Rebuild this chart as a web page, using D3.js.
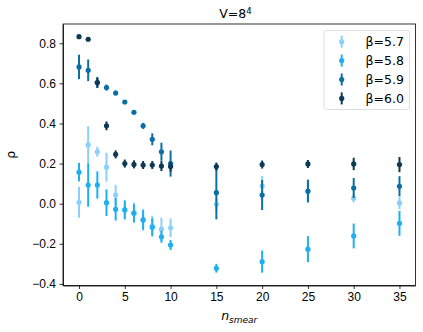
<!DOCTYPE html>
<html>
<head>
<meta charset="utf-8">
<script src="https://cdn.jsdelivr.net/npm/d3@7"></script>
<style>
  body { margin: 0; background: #fff; }
  svg { font-family: "DejaVu Sans", sans-serif; }
  .axis text { font-size: 12px; fill: #000; }
  .axis path, .axis line { stroke: #000; stroke-width: 0.8; }
</style>
</head>
<body>
<svg width="423" height="332"></svg>
<script>
// n_smear values
const nSmear = [0, 1, 2, 3, 4, 5, 6, 7, 8, 9, 10, 15, 20, 25, 30, 35]

// rho and errors, one pair per beta
const rho57 = [0.007, 0.293, 0.259, 0.182, 0.043, -0.03, -0.045, -0.08, -0.11, -0.127, -0.12, -0.003, 0.088, 0.06, 0.027, 0.004]
const err57 = [0.077, 0.093, 0.025, 0.072, 0.05, 0.035, 0.05, 0.055, 0.05, 0.058, 0.046, 0.03, 0.05, 0.05, 0.02, 0.03]

const rho58 = [0.157, 0.093, 0.093, 0.005, -0.028, -0.031, -0.048, -0.081, -0.118, -0.165, -0.206, -0.322, -0.289, -0.227, -0.161, -0.098]
const err58 = [0.046, 0.108, 0.068, 0.066, 0.056, 0.048, 0.045, 0.048, 0.045, 0.03, 0.025, 0.022, 0.055, 0.065, 0.062, 0.062]

const rho59 = [0.682, 0.665, 0.604, 0.579, 0.552, 0.507, 0.456, 0.388, 0.321, 0.259, 0.2, 0.055, 0.043, 0.063, 0.078, 0.087]
const err59 = [0.061, 0.054, 0.027, 0.015, 0.012, 0.01, 0.01, 0.015, 0.03, 0.045, 0.065, 0.133, 0.075, 0.057, 0.05, 0.05]

const rho60 = [0.833, 0.82, 0.604, 0.388, 0.246, 0.2, 0.196, 0.193, 0.193, 0.188, 0.185, 0.185, 0.195, 0.198, 0.198, 0.195]
const err60 = [0.003, 0.003, 0.025, 0.022, 0.02, 0.02, 0.02, 0.02, 0.02, 0.025, 0.025, 0.02, 0.02, 0.02, 0.031, 0.038]

const betaLabels = ["β=5.7", "β=5.8", "β=5.9", "β=6.0"]
const colors = ["#8ad0fa", "#1eaff0", "#0b6fa6", "#0c3a52"]

const xTicks = [0, 5, 10, 15, 20, 25, 30, 35]
const yTicks = [-0.4, -0.2, 0.0, 0.2, 0.4, 0.6, 0.8]

const series = [
    { rho: rho57, err: err57 },
    { rho: rho58, err: err58 },
    { rho: rho59, err: err59 },
    { rho: rho60, err: err60 }
]

// plot area
const plotL = 63, plotR = 415.5, plotT = 24, plotB = 285.5
const svg = d3.select("svg")

const xScale = d3.scaleLinear().domain([-1.75, 36.75]).range([plotL, plotR])
const yScale = d3.scaleLinear().domain([-0.408, 0.896]).range([plotB, plotT])

const fmt = d => d3.format(".1f")(d).replace("-", "\u2212")

// axes
svg.append("g")
    .attr("class", "axis")
    .attr("transform", "translate(0," + plotB + ")")
    .call(d3.axisBottom(xScale).tickValues(xTicks).tickSize(3.5).tickPadding(3.5).tickSizeOuter(0))

svg.append("g")
    .attr("class", "axis")
    .attr("transform", "translate(" + plotL + ",0)")
    .call(d3.axisLeft(yScale).tickValues(yTicks).tickFormat(fmt).tickSize(3.5).tickPadding(3.5).tickSizeOuter(0))

// frame
svg.append("rect")
    .attr("x", plotL).attr("y", plotT)
    .attr("width", plotR - plotL).attr("height", plotB - plotT)
    .attr("fill", "none").attr("stroke", "#000").attr("stroke-width", 0.8)

// error bars + points
series.forEach((s, i) => {
    const pts = nSmear.map((n, j) => ({ n: n, v: s.rho[j], e: s.err[j] }))
    const g = svg.append("g")
    g.selectAll("line")
        .data(pts)
        .enter()
        .append("line")
        .attr("x1", d => xScale(d.n))
        .attr("x2", d => xScale(d.n))
        .attr("y1", d => yScale(d.v - d.e))
        .attr("y2", d => yScale(d.v + d.e))
        .attr("stroke", colors[i])
        .attr("stroke-width", 2)
    g.selectAll("circle")
        .data(pts)
        .enter()
        .append("circle")
        .attr("cx", d => xScale(d.n))
        .attr("cy", d => yScale(d.v))
        .attr("r", 2.6)
        .attr("fill", colors[i])
})

// legend
const lg = svg.append("g")
lg.append("rect")
    .attr("x", 324).attr("y", 30.5)
    .attr("width", 85.5).attr("height", 79)
    .attr("rx", 2.5)
    .attr("fill", "#fff").attr("fill-opacity", 0.8)
    .attr("stroke", "#d5d5d5").attr("stroke-width", 0.8)

betaLabels.forEach((lab, i) => {
    const cy = 41.7 + i * 18.9
    lg.append("line")
        .attr("x1", 341.7).attr("x2", 341.7)
        .attr("y1", cy - 6).attr("y2", cy + 6)
        .attr("stroke", colors[i]).attr("stroke-width", 2)
    lg.append("circle")
        .attr("cx", 341.7).attr("cy", cy).attr("r", 2.6)
        .attr("fill", colors[i])
    lg.append("text")
        .attr("x", 365.5).attr("y", cy + 4.5)
        .attr("font-size", "12.5px")
        .text(lab)
})

// title
const title = svg.append("text")
    .attr("x", 235.5).attr("y", 18)
    .attr("text-anchor", "middle")
    .attr("font-size", "12.5px")
title.append("tspan").text("V=8")
title.append("tspan").attr("font-size", "8.5px").attr("dy", -4.5).text("4")

// axis labels
const xl = svg.append("text")
    .attr("x", (plotL + plotR) / 2).attr("y", 320)
    .attr("text-anchor", "middle")
    .attr("font-size", "12.5px")
    .attr("font-style", "italic")
xl.append("tspan").text("n")
xl.append("tspan").attr("font-size", "9px").attr("dy", 3).text("smear")

svg.append("text")
    .attr("transform", "translate(15," + ((plotT + plotB) / 2) + ") rotate(-90)")
    .attr("text-anchor", "middle")
    .attr("font-size", "12.5px")
    .text("ρ")
</script>
</body>
</html>
